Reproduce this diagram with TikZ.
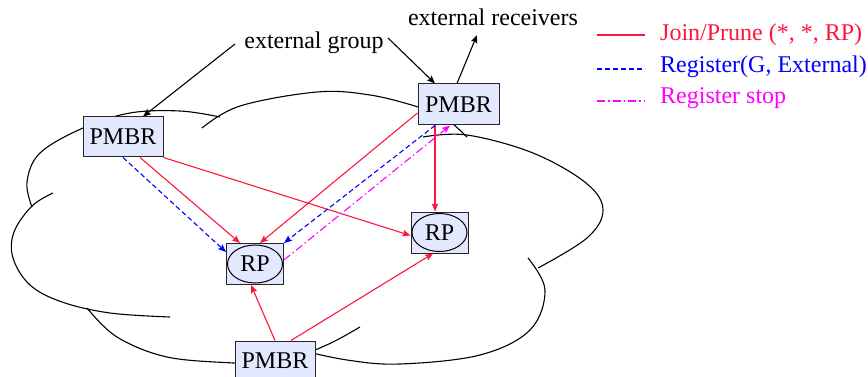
\documentclass[tikz,border=0pt]{standalone}
\usepackage{fontspec}
\setmainfont{Liberation Serif}
\usetikzlibrary{arrows.meta,shapes.geometric}

\definecolor{boxfill}{RGB}{226,233,255}
\definecolor{jpred}{RGB}{255,20,60}
\definecolor{regblue}{RGB}{0,0,255}
\definecolor{stopmag}{RGB}{255,0,255}

\tikzset{
  cloudline/.style={line width=1.1pt, black},
  boxnode/.style={draw=black!85, fill=boxfill, line width=1pt, rectangle,
    inner sep=0pt, minimum width=80pt, minimum height=40pt},
  rpbox/.style={draw=black!85, fill=boxfill, line width=1pt, rectangle,
    inner sep=0pt, minimum width=57pt, minimum height=41pt},
  rpell/.style={draw=black, line width=1pt, ellipse, inner sep=0pt,
    minimum width=55pt, minimum height=38pt},
  tip/.style={-{Stealth[length=8pt,width=6.5pt,inset=1.5pt]}},
  joinprune/.style={tip, jpred, line width=1.1pt},
  register/.style={tip, regblue, line width=1.1pt, dash pattern=on 5pt off 3pt},
  regstop/.style={tip, stopmag, line width=1.1pt,
    dash pattern=on 8pt off 3pt on 1.5pt off 3pt},
  pointer/.style={tip, black, line width=1.1pt},
  label/.style={anchor=base, inner sep=0pt},
  legendtext/.style={anchor=base west, inner sep=0pt}
}

\begin{document}
\begin{tikzpicture}[x=1pt, y=-1pt, font=\fontsize{24}{28}\selectfont]
\useasboundingbox (0,0) rectangle (868,377);

% --- cloud outline: overlapping lobes ---
\draw[cloudline] plot[smooth, tension=0.6] coordinates
  {(32,207) (27,182) (40,153) (83,128) (130,113) (180,111) (220,117)};
\draw[cloudline] plot[smooth, tension=0.6] coordinates
  {(202,128) (240,106) (317,92) (370,95) (418,107) (445,118) (467,137)};
\draw[cloudline] plot[smooth, tension=0.6] coordinates
  {(423,137) (467,135) (533,153) (586,183) (603,210) (587,238) (538,268)};
\draw[cloudline] plot[smooth, tension=0.6] coordinates
  {(528,258) (545,290) (530,330) (480,355) (400,364) (347,360) (300,350)};
\draw[cloudline] plot[smooth, tension=0.6] coordinates
  {(87,308) (117,337) (167,357) (233,363) (250,363)};
\draw[cloudline] plot[smooth, tension=0.6] coordinates
  {(300,355) (315,350) (337,340) (360,327)};
\draw[cloudline] plot[smooth, tension=0.6] coordinates
  {(53,193) (32,206) (14,232) (13,258) (30,285) (62,302) (110,313) (170,317)};

% --- routers ---
\node[boxnode] (p1) at (123,137) {PMBR};
\node[boxnode, minimum width=81pt, minimum height=41pt] (p2) at (458.5,104.5) {PMBR};
\node[boxnode] (p3) at (275,361) {PMBR};

% --- rendezvous points ---
\node[rpbox] (r1) at (255,264) {};
\node[rpell] (e1) at (r1) {RP};
\node[rpbox] (r2) at (439.5,232.5) {};
\node[rpell] (e2) at (r2) {RP};

% --- labels ---
\node[label] (grp) at (314,49) {external group};
\node[label] (rcv) at (493,26) {external receivers};
\coordinate (grpL) at (235,44);
\coordinate (grpR) at (388,38);
\coordinate (rcvB) at (477,35);

\draw[pointer] (grpL) -- ([xshift=20pt]p1.north);
\draw[pointer] (grpR) -- ([xshift=-23.5pt]p2.north);
\draw[pointer] ([xshift=-1.5pt]p2.north) -- (rcvB);

% --- Join/Prune (*, *, RP) ---
\draw[joinprune] ([xshift=17pt]p1.south) -- ([xshift=-15pt]r1.north);
\draw[joinprune] (p1.south east) -- ([yshift=-3pt]r2.west);
\draw[joinprune] ([yshift=-8.5pt]p2.west) -- ([xshift=5pt]r1.north);
\draw[joinprune] ([xshift=-23.5pt]p2.south) -- ([xshift=-4.5pt]r2.north);
\draw[joinprune] (p3.north) -- ([xshift=-4pt]r1.south);
\draw[joinprune] ([xshift=16pt]p3.north) -- ([xshift=-6.5pt]r2.south);

% --- Register(G, External) ---
\draw[register] (p1.south) -- ([yshift=12pt]r1.west);
\draw[register] ([xshift=-23.5pt]p2.south) -- (r1.north east);

% --- Register stop ---
\draw[regstop] ([yshift=4pt]r1.east) -- ([xshift=-8.5pt]p2.south);

% --- legend ---
\coordinate (la1) at (597,35);  \coordinate (lb1) at (645,35);
\coordinate (la2) at (597,69);  \coordinate (lb2) at (645,69);
\coordinate (la3) at (597,101); \coordinate (lb3) at (645,101);
\draw[jpred, line width=1.1pt] (la1) -- (lb1);
\draw[regblue, line width=1.1pt, dash pattern=on 5pt off 3pt] (la2) -- (lb2);
\draw[stopmag, line width=1.1pt, dash pattern=on 8pt off 3pt on 1.5pt off 3pt] (la3) -- (lb3);
\node[legendtext, text=jpred] (lt1) at (660,41) {Join/Prune (*, *, RP)};
\node[legendtext, text=regblue] (lt2) at (660,73) {Register(G, External)};
\node[legendtext, text=stopmag] (lt3) at (660,104) {Register stop};
\end{tikzpicture}
\end{document}
